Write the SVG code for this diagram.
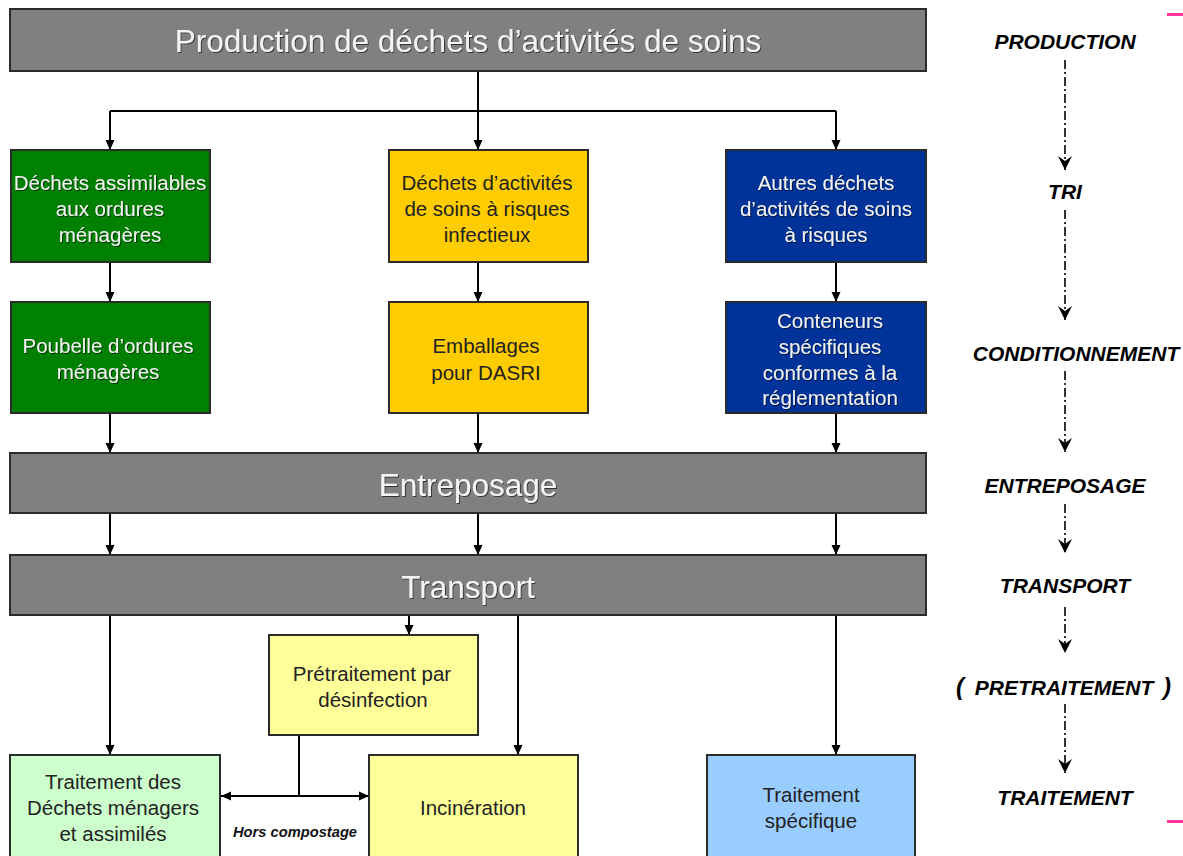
<svg xmlns="http://www.w3.org/2000/svg" width="1183" height="856" viewBox="0 0 1183 856">
<style>
.box{stroke:#2b2b2b;stroke-width:2}
.gray{fill:#808080}
.green{fill:#008000}
.yellow{fill:#FFCC00}
.blue{fill:#003399}
.lyellow{fill:#FFFF99}
.lgreen{fill:#CCFFCC}
.lblue{fill:#99CCFF}
.big{font-family:"Liberation Sans",Arial,sans-serif;font-size:31.5px;fill:#f4f4f4;text-anchor:middle;filter:url(#sh)}
.t{font-family:"Liberation Sans",Arial,sans-serif;font-size:20.5px;text-anchor:middle}
.w{fill:#f2f2f2;filter:url(#sh)}
.d{fill:#222}
.lab{font-family:"Liberation Sans",Arial,sans-serif;font-size:21px;font-weight:bold;font-style:italic;fill:#000;text-anchor:middle}
.conn{stroke:#000;stroke-width:2;fill:none}
.dd{stroke:#000;stroke-width:1.6;fill:none;stroke-dasharray:9,3,2,3}
</style>
<defs>
<filter id="sh" x="-10%" y="-20%" width="120%" height="140%">
<feDropShadow dx="1" dy="1" stdDeviation="0.4" flood-color="#000" flood-opacity="0.6"/>
</filter>
<marker id="ar" markerWidth="10" markerHeight="10" viewBox="0 0 10 10" refX="10" refY="5" orient="auto" markerUnits="userSpaceOnUse">
<path d="M0,0.5 L10,5 L0,9.5 Z" fill="#000"/>
</marker>
<marker id="ars" markerWidth="10" markerHeight="10" viewBox="0 0 10 10" refX="0" refY="5" orient="auto" markerUnits="userSpaceOnUse">
<path d="M10,0.5 L0,5 L10,9.5 Z" fill="#000"/>
</marker>
<marker id="chev" markerWidth="16" markerHeight="16" viewBox="0 0 16 16" refX="14" refY="8" orient="auto" markerUnits="userSpaceOnUse">
<path d="M0,1 L14,8 L0,15 L5,8 Z" fill="#000"/>
</marker>
</defs>

<g id="connectors">
<path class="conn" d="M478,71 V111 M110,111 H836"/>
<path class="conn" d="M110,111 V150" marker-end="url(#ar)"/>
<path class="conn" d="M478,111 V150" marker-end="url(#ar)"/>
<path class="conn" d="M836,111 V150" marker-end="url(#ar)"/>
<path class="conn" d="M110,262 V302" marker-end="url(#ar)"/>
<path class="conn" d="M478,262 V302" marker-end="url(#ar)"/>
<path class="conn" d="M836,262 V302" marker-end="url(#ar)"/>
<path class="conn" d="M110,413 V453" marker-end="url(#ar)"/>
<path class="conn" d="M478,413 V453" marker-end="url(#ar)"/>
<path class="conn" d="M836,413 V453" marker-end="url(#ar)"/>
<path class="conn" d="M110,513 V555" marker-end="url(#ar)"/>
<path class="conn" d="M478,513 V555" marker-end="url(#ar)"/>
<path class="conn" d="M836,513 V555" marker-end="url(#ar)"/>
<path class="conn" d="M110,615 V755" marker-end="url(#ar)"/>
<path class="conn" d="M409,615 V635" marker-end="url(#ar)"/>
<path class="conn" d="M518,615 V755" marker-end="url(#ar)"/>
<path class="conn" d="M836,615 V755" marker-end="url(#ar)"/>
<path class="conn" d="M299,735 V796"/>
<path class="conn" d="M221,796 H369" marker-start="url(#ars)" marker-end="url(#ar)"/>
<path class="dd" d="M1065,60 V170" marker-end="url(#chev)"/>
<path class="dd" d="M1065,210 V320" marker-end="url(#chev)"/>
<path class="dd" d="M1065,371 V452" marker-end="url(#chev)"/>
<path class="dd" d="M1065,504 V553" marker-end="url(#chev)"/>
<path class="dd" d="M1065,607 V653" marker-end="url(#chev)"/>
<path class="dd" d="M1065,704 V773" marker-end="url(#chev)"/>
</g>

<g id="production">
<rect class="box gray" x="10" y="9" width="916" height="62"/>
<text class="big" x="468" y="52">Production de déchets d’activités de soins</text>
</g>

<g id="dao">
<rect class="box green" x="11" y="150" width="199" height="112"/>
<text class="t w" x="110" y="190">Déchets assimilables</text>
<text class="t w" x="110" y="216">aux ordures</text>
<text class="t w" x="110" y="242">ménagères</text>
</g>
<g id="dasri">
<rect class="box yellow" x="389" y="150" width="199" height="112"/>
<text class="t d" x="487" y="190">Déchets d’activités</text>
<text class="t d" x="487" y="216">de soins à risques</text>
<text class="t d" x="487" y="242">infectieux</text>
</g>
<g id="autres">
<rect class="box blue" x="726" y="150" width="200" height="112"/>
<text class="t w" x="826" y="190">Autres déchets</text>
<text class="t w" x="826" y="216">d’activités de soins</text>
<text class="t w" x="826" y="242">à risques</text>
</g>

<g id="poubelle">
<rect class="box green" x="11" y="302" width="199" height="111"/>
<text class="t w" x="108" y="353">Poubelle d’ordures</text>
<text class="t w" x="108" y="379">ménagères</text>
</g>
<g id="emballages">
<rect class="box yellow" x="389" y="302" width="199" height="111"/>
<text class="t d" x="486" y="353">Emballages</text>
<text class="t d" x="486" y="380">pour DASRI</text>
</g>
<g id="conteneurs">
<rect class="box blue" x="726" y="302" width="200" height="111"/>
<text class="t w" x="830" y="328">Conteneurs</text>
<text class="t w" x="830" y="354">spécifiques</text>
<text class="t w" x="830" y="380">conformes à la</text>
<text class="t w" x="830" y="405">réglementation</text>
</g>

<g id="entreposage">
<rect class="box gray" x="10" y="453" width="916" height="60"/>
<text class="big" x="468" y="496">Entreposage</text>
</g>
<g id="transport">
<rect class="box gray" x="10" y="555" width="916" height="60"/>
<text class="big" x="468" y="598">Transport</text>
</g>

<g id="pretraitement">
<rect class="box lyellow" x="269" y="635" width="209" height="100"/>
<text class="t d" x="372" y="681">Prétraitement par</text>
<text class="t d" x="373" y="707">désinfection</text>
</g>
<g id="traitement-dm">
<rect class="box lgreen" x="10" y="755" width="210" height="102"/>
<text class="t d" x="113" y="789">Traitement des</text>
<text class="t d" x="113" y="815">Déchets ménagers</text>
<text class="t d" x="113" y="841">et assimilés</text>
</g>
<g id="incineration">
<rect class="box lyellow" x="369" y="755" width="209" height="102"/>
<text class="t d" x="473" y="815">Incinération</text>
</g>
<g id="traitement-specifique">
<rect class="box lblue" x="707" y="755" width="208" height="102"/>
<text class="t d" x="811" y="802">Traitement</text>
<text class="t d" x="811" y="828">spécifique</text>
</g>
<text x="295" y="837" style="font-family:'Liberation Sans',Arial,sans-serif;font-size:14.7px;font-weight:bold;font-style:italic;fill:#111;text-anchor:middle">Hors compostage</text>

<g id="etapes">
<text class="lab" x="1065" y="49">PRODUCTION</text>
<text class="lab" x="1065" y="199">TRI</text>
<text class="lab" x="1076" y="361">CONDITIONNEMENT</text>
<text class="lab" x="1065" y="493">ENTREPOSAGE</text>
<text class="lab" x="1065" y="593">TRANSPORT</text>
<text class="lab" x="1064" y="695"><tspan x="960" style="font-size:24px">(</tspan><tspan x="1064">PRETRAITEMENT</tspan><tspan x="1167" style="font-size:24px">)</tspan></text>
<text class="lab" x="1065" y="805">TRAITEMENT</text>
</g>

<g id="marques">
<rect x="1167" y="13" width="16" height="3" fill="#FF3399"/>
<rect x="1167" y="820" width="16" height="3" fill="#FF3399"/>
</g>
</svg>
